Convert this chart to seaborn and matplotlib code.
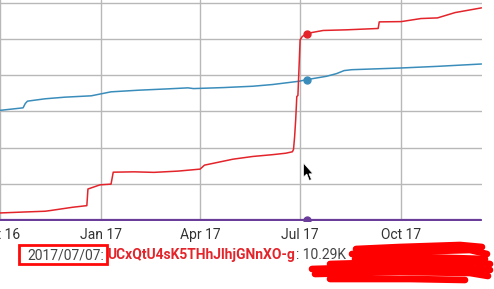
import matplotlib
matplotlib.use("Agg")
import matplotlib.pyplot as plt
import matplotlib.dates as mdates
from matplotlib.patches import Polygon, Rectangle
import seaborn as sns
import pandas as pd

# ---------------- data ----------------
red_dates = ["2016-10-01", "2016-10-24", "2016-11-11", "2016-11-16", "2016-12-06",
             "2016-12-19", "2016-12-20", "2016-12-31", "2017-01-10", "2017-01-12",
             "2017-01-31", "2017-02-18", "2017-03-12", "2017-04-01", "2017-04-05",
             "2017-05-01", "2017-05-19", "2017-06-06", "2017-06-18", "2017-06-24",
             "2017-06-25", "2017-06-26", "2017-06-27", "2017-06-28", "2017-06-29",
             "2017-06-30", "2017-07-01", "2017-07-03", "2017-07-07", "2017-07-12",
             "2017-07-22", "2017-08-12", "2017-09-10", "2017-09-11", "2017-10-01",
             "2017-10-19", "2017-11-03", "2017-11-19", "2017-12-13"]
red_values = [385, 440, 480, 520, 700,
              790, 1710, 1940, 1980, 2640,
              2660, 2630, 2700, 2810, 3030,
              3360, 3510, 3610, 3690, 3770,
              3900, 4600, 5560, 6830, 6880,
              8400, 9960, 10150, 10290, 10370,
              10480, 10515, 10590, 10955, 10970,
              11140, 11175, 11470, 11730]

blue_dates = ["2016-10-01", "2016-10-22", "2016-10-24", "2016-10-26", "2016-11-11",
              "2016-11-29", "2016-12-23", "2017-01-01", "2017-01-10", "2017-02-04",
              "2017-03-03", "2017-03-21", "2017-03-26", "2017-04-22", "2017-05-19",
              "2017-06-06", "2017-06-30", "2017-07-07", "2017-07-25", "2017-08-03",
              "2017-08-10", "2017-08-17", "2017-10-01", "2017-11-03", "2017-12-13"]
blue_values = [6060, 6200, 6440, 6570, 6700,
               6790, 6865, 6975, 7085, 7175,
               7250, 7305, 7265, 7320, 7395,
               7490, 7670, 7760, 7945, 8090,
               8260, 8310, 8405, 8495, 8625]

purple_dates = ["2016-10-01", "2017-07-07", "2017-12-13"]
purple_values = [0, 0, 0]

highlight_date = "2017/07/07"
highlight_name = "UCxQtU4sK5THhJlhjGNnXO-g"
highlight_value = "10.29K"

x_ticks = ["2016-10-01", "2017-01-01", "2017-04-01", "2017-07-01", "2017-10-01"]
y_ticks = [0, 2000, 4000, 6000, 8000, 10000, 12000]

RED = "#e3242b"
BLUE = "#3a8dbb"
PURPLE = "#6a3d9a"

# ---------------- figure ----------------
sns.set_style("white")
plt.rcParams["font.family"] = ["Roboto", "DejaVu Sans"]

W, H = 494, 289
fig = plt.figure(figsize=(W / 100, H / 100), dpi=100)
ax = fig.add_axes([0, (H - 221) / H, 482 / W, 221 / H])

red = pd.DataFrame({"date": pd.to_datetime(red_dates), "v": red_values})
blue = pd.DataFrame({"date": pd.to_datetime(blue_dates), "v": blue_values})
purple = pd.DataFrame({"date": pd.to_datetime(purple_dates), "v": purple_values})

for y in y_ticks:
    ax.axhline(y, color="#b8b8b8", lw=1.0, zorder=0)
for d in x_ticks:
    ax.axvline(pd.Timestamp(d), color="#b8b8b8", lw=1.0, zorder=0)

sns.lineplot(data=blue, x="date", y="v", color=BLUE, lw=1.1, ax=ax)
sns.lineplot(data=red, x="date", y="v", color=RED, lw=1.1, ax=ax)
sns.lineplot(data=purple, x="date", y="v", color=PURPLE, lw=1.6, ax=ax)

hd = pd.Timestamp(highlight_date.replace("/", "-"))
ax.plot([hd], [red.loc[red.date == hd, "v"].iloc[0]], "o", color=RED, ms=5, zorder=5)
ax.plot([hd], [blue.loc[blue.date == hd, "v"].iloc[0]], "o", color=BLUE, ms=5, zorder=5)
ax.plot([hd], [0], "o", color=PURPLE, ms=5, zorder=5)

px_per_day = 1.1121
left = pd.Timestamp("2017-01-01") - pd.Timedelta(days=96.7 / px_per_day)
right = pd.Timestamp("2017-01-01") + pd.Timedelta(days=(482 - 96.7) / px_per_day)
ax.set_xlim(left, right)
ax.set_ylim(-60, 12000 + 3 * 55.05)

ax.set_xticks(pd.to_datetime(x_ticks))
ax.xaxis.set_major_formatter(mdates.DateFormatter("%b %y"))
ax.tick_params(axis="x", length=0, pad=5, labelsize=10, labelcolor="#333333")
ax.set_yticks([])
ax.set_xlabel("")
ax.set_ylabel("")
for s in ax.spines.values():
    s.set_visible(False)
ax.grid(False)

# ---------------- legend line ----------------
def fx(x):
    return x / W

def fy(y):
    return 1 - y / H

t1 = fig.text(fx(27), fy(255), highlight_date + ":", color="#444444",
              fontsize=10, ha="left", va="center")
t2 = fig.text(fx(107), fy(255), highlight_name, color=RED, fontsize=10,
              fontweight="bold", ha="left", va="center")
ax.annotate(": " + highlight_value, xy=(1, 0.5), xycoords=t2,
            xytext=(0.5, 0), textcoords="offset points",
            color="#444444", fontsize=10, ha="left", va="center",
            annotation_clip=False)

fig.patches.append(Rectangle((fx(19), fy(264)), fx(106.7) - fx(19), fy(245) - fy(264),
                             transform=fig.transFigure, fill=False,
                             edgecolor="#ff0a0a", lw=2.0))

# scribble covering the rest of the legend
strokes = [
    [(356, 249), (400, 247), (460, 245), (482, 247)],
    [(352, 254), (400, 252), (470, 250), (487, 254)],
    [(355, 259), (420, 257), (485, 259)],
    [(330, 264), (400, 262), (470, 262), (490, 264)],
    [(312, 269), (380, 267), (460, 267), (490, 270)],
    [(315, 274), (400, 272), (470, 273), (488, 276)],
    [(330, 279), (410, 279), (465, 280)],
]
for s in strokes:
    xs = [fx(p[0]) for p in s]
    ys = [fy(p[1]) for p in s]
    fig.add_artist(plt.Line2D(xs, ys, transform=fig.transFigure, color="#ff0000",
                              lw=4.8, solid_capstyle="round", solid_joinstyle="round",
                              zorder=10))

# mouse cursor
cursor = [(303.5, 163), (303.5, 177), (306.8, 174), (309.3, 180.5), (311.5, 179.5),
          (309.0, 173.8), (313, 173.8)]
fig.patches.append(Polygon([(fx(x), fy(y)) for x, y in cursor], closed=True,
                           transform=fig.transFigure, facecolor="black",
                           edgecolor="white", lw=0.5))

fig.savefig("out.png", dpi=100)
